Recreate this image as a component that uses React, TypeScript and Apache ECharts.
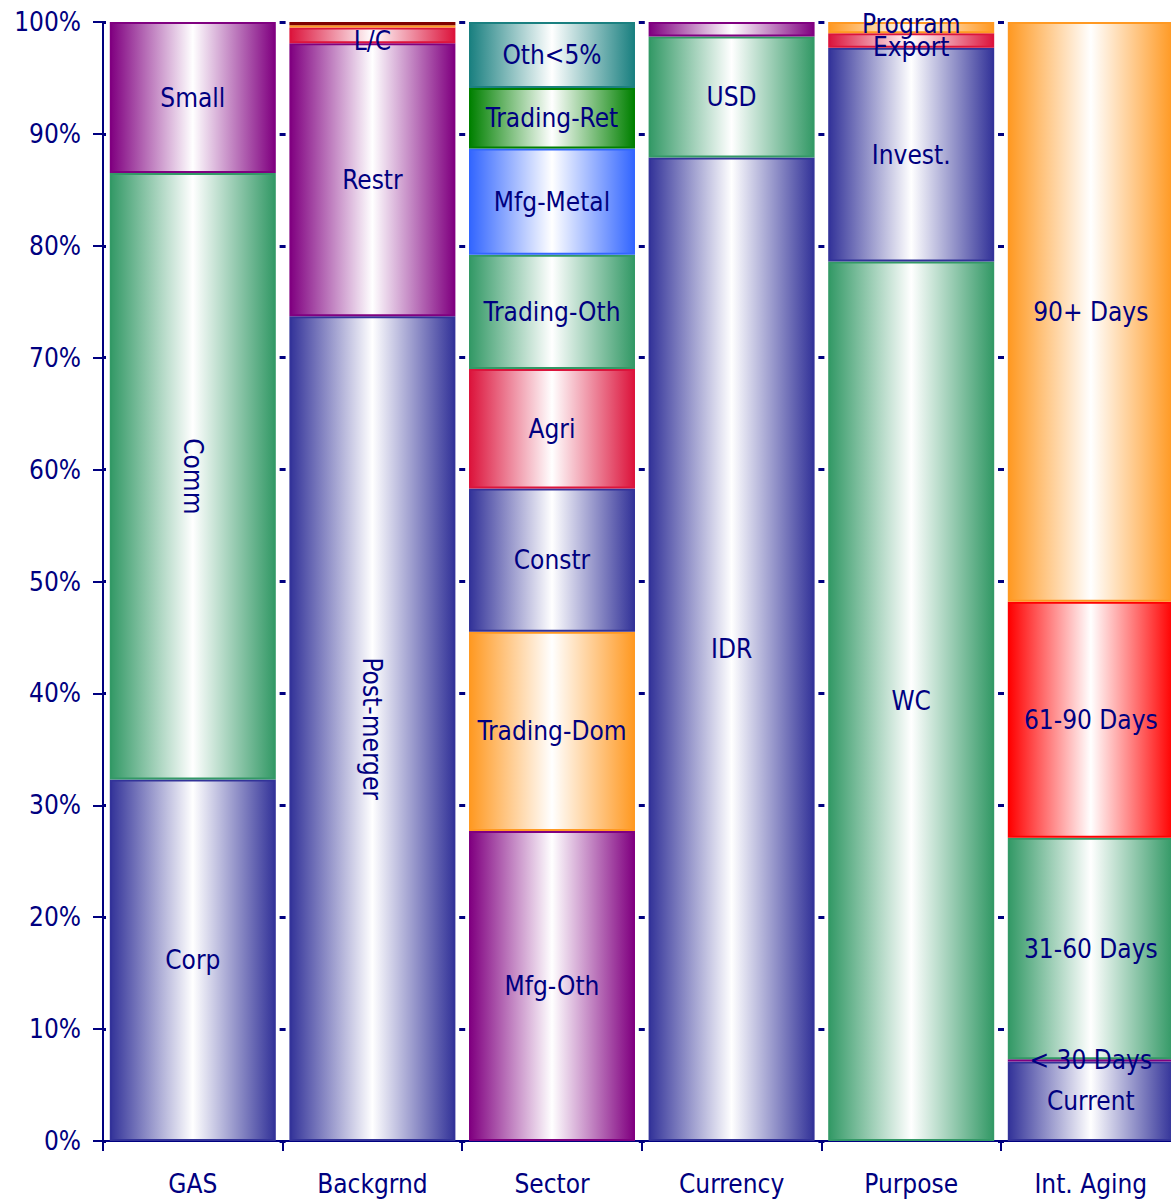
import React, { useEffect, useRef } from "react";
import * as echarts from "echarts";

const categories = ["GAS", "Backgrnd", "Sector", "Currency", "Purpose", "Int. Aging"];

// Segments per column, bottom to top ("" = unlabelled sliver)
const gasNames = ["Corp", "Comm", "Small"];
const gasValues = [32.3, 54.2, 13.5];

const bgNames = ["Post-merger", "Restr", "L/C", "", ""];
const bgValues = [73.7, 24.4, 1.4, 0.2, 0.3];

const sectorNames = ["Mfg-Oth", "Trading-Dom", "Constr", "Agri", "Trading-Oth", "Mfg-Metal", "Trading-Ret", "Oth<5%"];
const sectorValues = [27.7, 17.8, 12.8, 10.7, 10.2, 9.5, 5.4, 5.9];

const currencyNames = ["IDR", "USD", ""];
const currencyValues = [87.9, 10.8, 1.3];

const purposeNames = ["WC", "Invest.", "Export", "Program"];
const purposeValues = [78.6, 19.1, 1.3, 1.0];

const agingNames = ["Current", "< 30 Days", "31-60 Days", "61-90 Days", "90+ Days"];
const agingValues = [7.1, 0.2, 19.8, 21.1, 51.8];

const yTicks = [0, 10, 20, 30, 40, 50, 60, 70, 80, 90, 100];

// ---- styles (kept apart from the data) ----
const NAVY = "#333399";
const GREEN = "#339966";
const PURPLE = "#800080";
const ORANGE = "#FF9922";
const CRIMSON = "#DC143C";
const RED = "#FF0000";
const BLUE = "#3366FF";
const DKGREEN = "#008000";
const TEAL = "#1A8080";
const MAROON = "#800000";
const TEXT = "#000080";
const FONT = "'DejaVu Sans Condensed', 'DejaVu Sans', sans-serif";

const gasColors = [NAVY, GREEN, PURPLE];
const bgColors = [NAVY, PURPLE, CRIMSON, ORANGE, MAROON];
const sectorColors = [PURPLE, ORANGE, NAVY, CRIMSON, GREEN, BLUE, DKGREEN, TEAL];
const currencyColors = [NAVY, GREEN, PURPLE];
const purposeColors = [GREEN, NAVY, CRIMSON, ORANGE];
const agingColors = [NAVY, PURPLE, GREEN, RED, ORANGE];

const gasRotate = [0, -90, 0];
const bgRotate = [-90, 0, 0, 0, 0];
const bgOffset = [[0, 0], [0, 0], [0, 6], [0, 0], [0, 0]];
const purposeOffset = [[0, 0], [0, 0], [0, 7], [0, -4]];

const columns = [
  { names: gasNames, values: gasValues, colors: gasColors, rotate: gasRotate, offset: null as any },
  { names: bgNames, values: bgValues, colors: bgColors, rotate: bgRotate, offset: bgOffset },
  { names: sectorNames, values: sectorValues, colors: sectorColors, rotate: null as any, offset: null as any },
  { names: currencyNames, values: currencyValues, colors: currencyColors, rotate: null as any, offset: null as any },
  { names: purposeNames, values: purposeValues, colors: purposeColors, rotate: null as any, offset: purposeOffset },
  { names: agingNames, values: agingValues, colors: agingColors, rotate: null as any, offset: null as any },
];

function grad(c: string) {
  return new echarts.graphic.LinearGradient(0, 0, 1, 0, [
    { offset: 0, color: c },
    { offset: 0.5, color: "#FFFFFF" },
    { offset: 1, color: c },
  ]);
}

function buildSeries() {
  const maxLevels = Math.max(...columns.map((c) => c.values.length));
  const series: any[] = [];
  for (let lvl = 0; lvl < maxLevels; lvl++) {
    const data = columns.map((col) => {
      if (lvl >= col.values.length) return { value: 0, itemStyle: { opacity: 0 }, label: { show: false } };
      const name = col.names[lvl];
      const color = col.colors[lvl];
      return {
        value: col.values[lvl],
        itemStyle: { color: grad(color), borderColor: color, borderWidth: 2 },
        label: {
          show: name !== "",
          formatter: name,
          rotate: col.rotate ? col.rotate[lvl] : 0,
          offset: col.offset ? col.offset[lvl] : [0, 0],
        },
      };
    });
    series.push({
      type: "bar",
      name: "L" + lvl,
      stack: "total",
      barWidth: 166,
      data,
      label: {
        show: true,
        position: "inside",
        color: TEXT,
        fontSize: 26,
        fontFamily: FONT,
      },
    });
  }
  return series;
}

export default function App() {
  const ref = useRef<HTMLDivElement>(null);
  useEffect(() => {
    if (!ref.current) return;
    const chart = echarts.init(ref.current, undefined, { renderer: "svg" });
    chart.setOption({
      animation: false,
      backgroundColor: "#FFFFFF",
      grid: { left: 103, top: 22, width: 1077.6, height: 1119, containLabel: false },
      xAxis: {
        type: "category",
        data: categories,
        axisLine: { lineStyle: { color: TEXT, width: 2 } },
        axisTick: { show: true, interval: 0, length: 10, lineStyle: { color: TEXT, width: 2 } },
        axisLabel: { color: TEXT, fontSize: 26, fontFamily: FONT, margin: 30, interval: 0 },
      },
      yAxis: {
        type: "value",
        min: yTicks[0],
        max: yTicks[yTicks.length - 1],
        interval: 10,
        axisLine: { show: true, lineStyle: { color: TEXT, width: 2 } },
        axisTick: { show: true, length: 10, lineStyle: { color: TEXT, width: 2 } },
        axisLabel: { color: TEXT, fontSize: 26, fontFamily: FONT, margin: 22, formatter: "{value}%" },
        splitLine: {
          show: true,
          lineStyle: { color: TEXT, width: 3, type: [6, 173.6], dashOffset: 3 },
        },
      },
      series: buildSeries(),
    });
    return () => chart.dispose();
  }, []);
  return (
    <div style={{ position: "absolute", left: 0, top: 0, width: 1171, height: 1200, overflow: "hidden", background: "#fff" }}>
      <div ref={ref} style={{ width: 1181, height: 1200 }} />
    </div>
  );
}
